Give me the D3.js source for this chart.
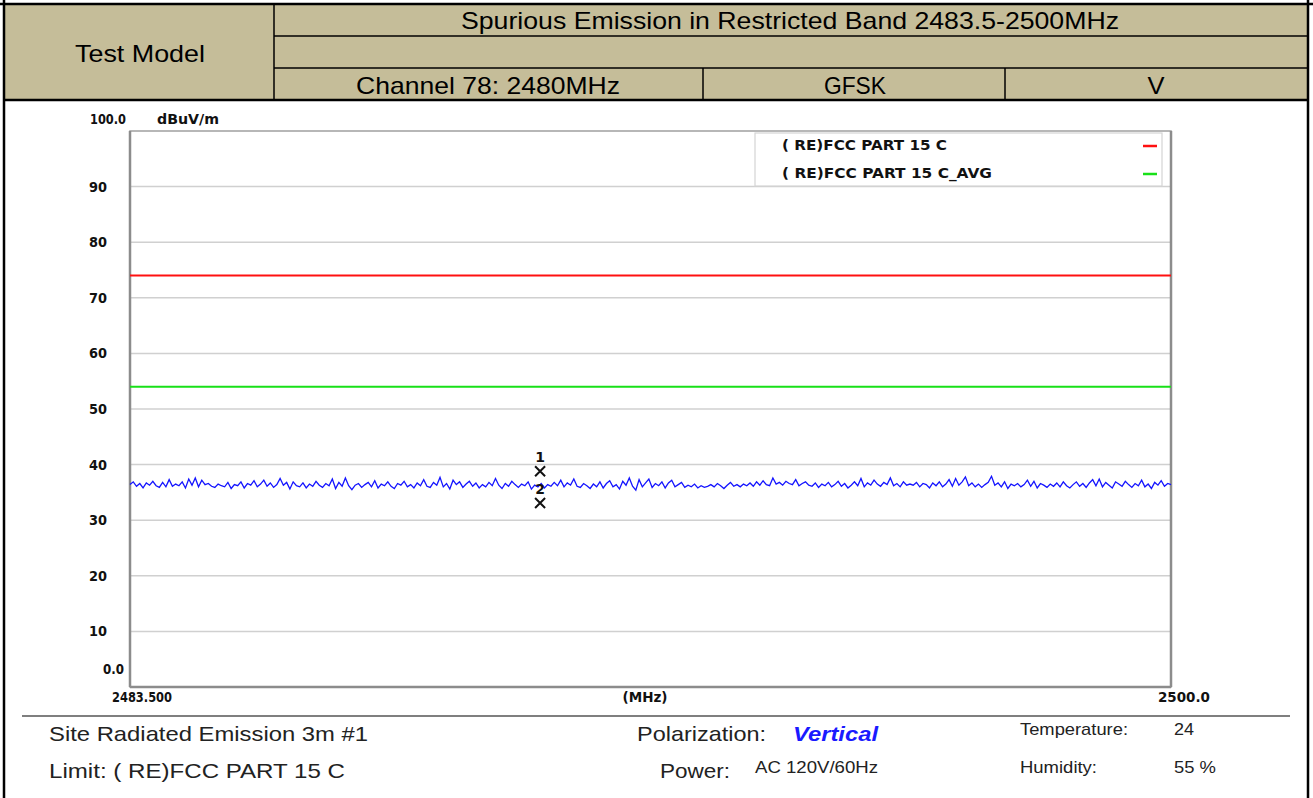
<!DOCTYPE html>
<html><head><meta charset="utf-8">
<script src="https://cdn.jsdelivr.net/npm/d3@7"></script>
<style>body{margin:0;background:#fff}svg{display:block}</style>
</head><body>
<svg id="c" width="1313" height="798"></svg>
<script>
const freqStart = 2483.5, freqEnd = 2500.0;
const yTicks = [10,20,30,40,50,60,70,80,90];
const limitPeak = 74;
const limitAvg = 54;
const traceLevels = [
36.4,36.9,36.1,36.6,35.8,36.7,36.3,37.0,36.2,35.9,36.8,36.0,37.3,36.1,36.5,36.2,36.9,35.8,37.4,36.3,
37.6,36.0,37.2,36.4,36.6,36.1,35.9,36.5,36.2,36.0,36.8,35.7,36.4,36.2,36.9,35.8,36.6,36.3,37.1,36.0,
36.5,37.2,36.1,36.7,35.9,36.4,37.5,36.3,36.8,35.6,36.9,36.2,36.0,36.7,35.8,36.5,36.1,37.0,36.3,35.9,
36.6,36.2,37.4,35.7,36.8,36.1,37.6,36.2,35.5,36.3,36.6,35.9,36.4,36.8,36.0,37.1,35.8,36.5,36.2,36.9,
36.1,35.7,36.6,36.3,37.0,36.0,36.4,35.8,36.7,36.2,37.3,36.1,35.9,36.8,36.3,37.7,36.0,36.6,35.6,37.2,
36.4,36.9,35.9,36.5,37.0,36.1,36.7,35.8,36.4,36.0,36.8,36.2,37.5,36.3,35.7,36.6,36.1,37.0,36.4,35.9,
36.5,36.2,36.9,35.6,36.3,36.0,36.6,35.8,36.4,36.1,36.8,36.2,37.2,36.0,36.7,36.3,37.4,36.1,35.9,36.6,
36.2,35.7,36.5,36.0,36.9,35.8,36.6,37.1,36.0,36.4,35.6,37.0,36.3,37.6,36.1,35.4,37.3,36.0,36.7,37.4,
35.9,36.6,36.2,36.9,35.8,36.7,37.2,36.0,36.4,36.8,35.9,36.3,36.0,36.5,35.8,36.2,35.9,36.1,36.4,36.0,
36.6,36.2,35.7,36.3,36.8,36.1,36.4,36.0,36.5,36.2,36.7,36.1,36.9,36.3,37.1,36.4,36.2,37.6,36.5,36.8,
36.3,37.0,36.6,36.4,37.3,36.2,36.6,36.9,36.3,36.1,36.7,35.9,36.5,36.2,36.8,36.0,36.4,37.0,36.1,36.6,
35.8,36.3,36.9,36.2,37.5,36.0,36.7,36.3,37.2,36.5,36.1,36.8,36.4,37.6,36.2,36.6,36.0,36.9,36.3,36.5,
36.3,36.8,36.0,36.6,36.4,35.8,36.7,36.2,36.9,36.0,36.5,37.3,36.1,37.5,36.3,36.9,37.8,36.2,36.7,36.0,
36.5,35.9,36.4,36.8,37.9,36.3,36.7,36.0,36.9,35.7,36.5,36.2,36.6,36.0,36.4,37.2,36.1,37.0,35.8,36.6,
36.3,35.9,36.5,36.1,36.7,36.0,36.9,36.2,35.8,36.4,36.9,36.1,36.6,35.9,36.7,37.3,36.2,37.4,36.0,36.8,
36.3,35.8,36.9,36.5,36.1,37.0,36.4,35.9,36.6,36.2,37.2,36.0,36.5,35.7,36.8,36.3,37.1,36.1,36.6,36.4
];
const markerIds = ["1","2"];
const markerFreqs = [2490.0, 2490.0];
const markerLevels = [38.8, 33.1];
const legendLabels = ["( RE)FCC PART 15 C","( RE)FCC PART 15 C_AVG"];

const svg = d3.select("#c");
const sans = "'Liberation Sans',Arial,sans-serif";
const bold = "'DejaVu Sans',Verdana,sans-serif";

// ---- header table ----
const tan = "#c5bd99";
svg.append("rect").attr("x",4).attr("y",4).attr("width",1304).attr("height",96).attr("fill",tan);
const L = (x1,y1,x2,y2,w,c)=>svg.append("line").attr("x1",x1).attr("y1",y1).attr("x2",x2).attr("y2",y2).attr("stroke",c||"#000").attr("stroke-width",w||1.5);
L(0,4,1313,4,2.5);
L(4,0,4,798,2.5);
L(1308,0,1308,798,2.5);
L(274,4,274,100,1.5);
L(274,36,1308,36,1.5);
L(274,68,1308,68,1.5);
L(703,68,703,100,1.5);
L(1005,68,1005,100,1.5);
L(4,100,1308,100,2.5);
const T = (x,y,s,opt)=>{opt=opt||{};const t=svg.append("text").attr("x",x).attr("y",y).text(s)
  .attr("font-family",opt.f||sans).attr("font-size",opt.size||24).attr("text-anchor",opt.a||"middle")
  .attr("dominant-baseline","central").attr("fill",opt.c||"#000")
  .attr("font-weight",opt.w||"normal").attr("font-style",opt.st||"normal");
  if(opt.len){t.attr("textLength",opt.len).attr("lengthAdjust","spacingAndGlyphs");}
  return t;};
T(140,53,"Test Model",{len:130});
T(790,20,"Spurious Emission in Restricted Band 2483.5-2500MHz",{len:658});
T(488,85,"Channel 78: 2480MHz",{len:264});
T(855,85,"GFSK",{len:62});
T(1156,85,"V",{len:17});

// ---- plot ----
const px0=130, px1=1171, py0=131, py1=687;
const x = d3.scaleLinear().domain([freqStart,freqEnd]).range([px0,px1]);
const y = d3.scaleLinear().domain([0,100]).range([py1,py0]);

svg.append("g").selectAll("line").data(yTicks).join("line")
  .attr("x1",px0).attr("x2",px1).attr("y1",d=>y(d)).attr("y2",d=>y(d))
  .attr("stroke","#d0d0d0").attr("stroke-width",1.5);

// frame
svg.append("rect").attr("x",px0).attr("y",py0).attr("width",px1-px0).attr("height",py1-py0)
  .attr("fill","none").attr("stroke","#a0a0a0").attr("stroke-width",1.5);
L(px0,py0,px0,py1,2.5,"#8c8c8c");
L(px0,py1,px1,py1,2.5,"#8c8c8c");
L(px1,py0,px1,py1,2.5,"#8c8c8c");

// y labels
const lab = (xx,yy,s,a,len)=>T(xx,yy,s,{f:bold,size:13.5,w:"bold",a:a||"start",c:"#111",len:len});
yTicks.forEach(v=>lab(89,y(v),String(v),null,18));
lab(90,119,"100.0",null,36);
lab(157,119,"dBuV/m",null,62);
lab(124,y(0)-18,"0.0","end",21);
lab(142,697,"2483.500","middle",60);
lab(645,697,"(MHz)","middle",45);
lab(1184,697,"2500.0","middle",52);

// limit lines
svg.append("line").attr("x1",px0).attr("x2",px1).attr("y1",y(limitPeak)).attr("y2",y(limitPeak)).attr("stroke","#ff1010").attr("stroke-width",2);
svg.append("line").attr("x1",px0).attr("x2",px1).attr("y1",y(limitAvg)).attr("y2",y(limitAvg)).attr("stroke","#18e018").attr("stroke-width",2);

// trace
const n = traceLevels.length;
const tracePts = traceLevels.map((v,i)=>[freqStart+(freqEnd-freqStart)*i/(n-1), v]);
svg.append("path").datum(tracePts)
  .attr("d", d3.line().x(d=>x(d[0])).y(d=>y(d[1])))
  .attr("fill","none").attr("stroke","#1414ff").attr("stroke-width",1.3);

// markers
markerIds.forEach((id,i)=>{
  const mx=x(markerFreqs[i]), my=y(markerLevels[i]);
  svg.append("path").attr("d",`M${mx-5},${my-5}L${mx+5},${my+5}M${mx+5},${my-5}L${mx-5},${my+5}`)
    .attr("stroke","#111").attr("stroke-width",2);
  T(mx,my-14,id,{f:bold,size:14,w:"bold",c:"#111"});
});

// legend
svg.append("rect").attr("x",755).attr("y",133).attr("width",407).attr("height",53)
  .attr("fill","#fff").attr("stroke","#d4d4d4").attr("stroke-width",1.2);
const legColors = ["#ff1010","#18e018"];
const legLens = [165,210];
legendLabels.forEach((s,i)=>{
  const ly = 145 + i*28;
  lab(782,ly,s,null,legLens[i]);
  svg.append("line").attr("x1",1143).attr("x2",1157).attr("y1",ly+1).attr("y2",ly+1).attr("stroke",legColors[i]).attr("stroke-width",2.5);
});

// footer
L(22,716,1290,716,1.2);
T(49,733,"Site  Radiated Emission 3m #1",{a:"start",size:21,c:"#222",len:319});
T(49,770,"Limit: ( RE)FCC PART 15 C",{a:"start",size:21,c:"#222",len:296});
T(637,733,"Polarization:",{a:"start",size:21,c:"#222",len:129});
T(793,733,"Vertical",{a:"start",size:21,c:"#1a1aff",w:"bold",st:"italic",len:85});
T(660,770,"Power:",{a:"start",size:21,c:"#222",len:70});
T(755,767,"AC 120V/60Hz",{a:"start",size:17,c:"#222",len:123});
T(1020,729,"Temperature:",{a:"start",size:17,c:"#222",len:108});
T(1174,729,"24",{a:"start",size:17,c:"#222",len:20});
T(1020,767,"Humidity:",{a:"start",size:17,c:"#222",len:77});
T(1174,767,"55 %",{a:"start",size:17,c:"#222",len:42});
</script>
</body></html>
